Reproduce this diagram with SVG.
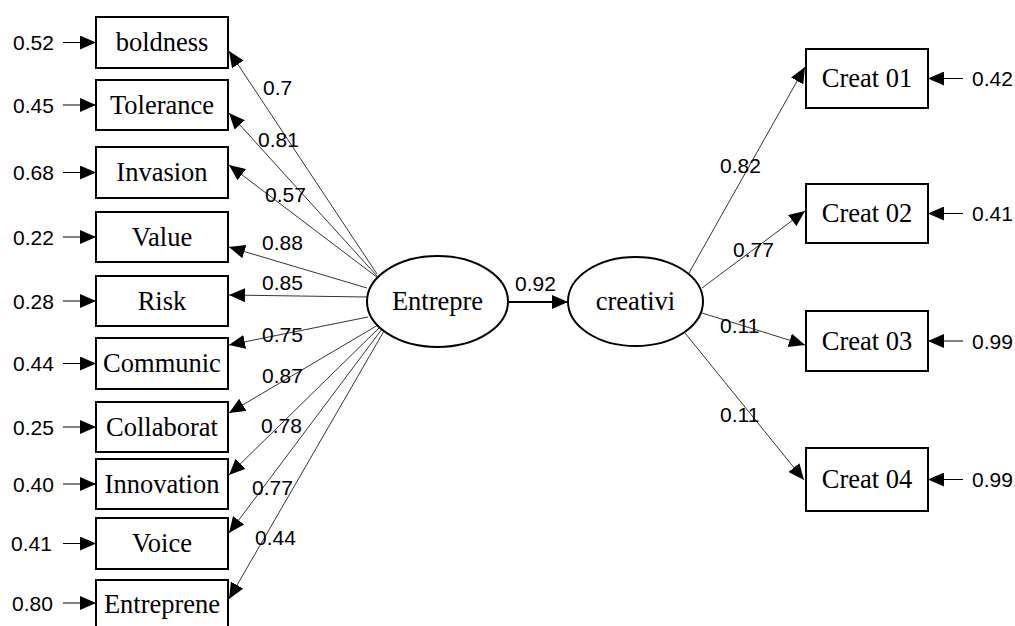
<svg xmlns="http://www.w3.org/2000/svg" width="1015" height="626" viewBox="0 0 1015 626">
<style>
.box{fill:#fff;stroke:#000;stroke-width:2}
.ell{fill:#fff;stroke:#000;stroke-width:2}
.nt{font-family:"Liberation Serif","Times New Roman",serif;font-size:26.5px;fill:#000;text-anchor:middle}
.lb{font-family:"Liberation Sans",Arial,sans-serif;font-size:21px;fill:#000}
.cn{fill:none;stroke:#000;stroke-width:0.8;marker-end:url(#ah)}
.er{fill:none;stroke:#000;stroke-width:1;marker-end:url(#ah)}
.thick{fill:none;stroke:#000;stroke-width:2;marker-end:url(#ah)}
</style>
<defs>
<marker id="ah" markerUnits="userSpaceOnUse" markerWidth="16" markerHeight="14" refX="16" refY="7" orient="auto">
<path d="M0,0 L16,7 L0,14 z" fill="#000"/>
</marker>
</defs>
<rect width="1015" height="626" fill="#fff"/>

<g id="connectors">
<line class="cn" x1="377" y1="274" x2="229" y2="51"/>
<line class="cn" x1="377" y1="276" x2="229" y2="113"/>
<line class="cn" x1="378" y1="278" x2="229" y2="165"/>
<line class="cn" x1="367" y1="288" x2="229" y2="247"/>
<line class="cn" x1="367" y1="297" x2="229" y2="295"/>
<line class="cn" x1="368" y1="317" x2="229" y2="345"/>
<line class="cn" x1="378" y1="325" x2="229" y2="413"/>
<line class="cn" x1="380" y1="327" x2="229" y2="475"/>
<line class="cn" x1="382" y1="329" x2="229" y2="533"/>
<line class="cn" x1="384" y1="331" x2="229" y2="599"/>
<line class="thick" x1="508" y1="302" x2="568" y2="302"/>
<line class="cn" x1="689" y1="273" x2="805" y2="67"/>
<line class="cn" x1="702" y1="288" x2="805" y2="211"/>
<line class="cn" x1="702" y1="313" x2="805" y2="345"/>
<line class="cn" x1="685" y1="333" x2="804" y2="480"/>
<line class="er" x1="63" y1="42.5" x2="96" y2="42.5"/>
<line class="er" x1="63" y1="105" x2="96" y2="105"/>
<line class="er" x1="63" y1="172.5" x2="96" y2="172.5"/>
<line class="er" x1="63" y1="237" x2="96" y2="237"/>
<line class="er" x1="63" y1="301" x2="96" y2="301"/>
<line class="er" x1="63" y1="363.5" x2="96" y2="363.5"/>
<line class="er" x1="63" y1="427" x2="96" y2="427"/>
<line class="er" x1="63" y1="484" x2="96" y2="484"/>
<line class="er" x1="63" y1="543.5" x2="96" y2="543.5"/>
<line class="er" x1="63" y1="603" x2="96" y2="603"/>
<line class="er" x1="963" y1="78.5" x2="928" y2="78.5"/>
<line class="er" x1="963" y1="213.5" x2="928" y2="213.5"/>
<line class="er" x1="963" y1="341" x2="928" y2="341"/>
<line class="er" x1="963" y1="479.5" x2="928" y2="479.5"/>
</g>

<g id="labels">
<text class="lb" x="263" y="95">0.7</text>
<text class="lb" x="258" y="147">0.81</text>
<text class="lb" x="265" y="202">0.57</text>
<text class="lb" x="262" y="250">0.88</text>
<text class="lb" x="262" y="290">0.85</text>
<text class="lb" x="262" y="342">0.75</text>
<text class="lb" x="262" y="383">0.87</text>
<text class="lb" x="261" y="433">0.78</text>
<text class="lb" x="252" y="495">0.77</text>
<text class="lb" x="255" y="545">0.44</text>
<text class="lb" x="515" y="291">0.92</text>
<text class="lb" x="720" y="173">0.82</text>
<text class="lb" x="733" y="257">0.77</text>
<text class="lb" x="720" y="333">0.11</text>
<text class="lb" x="720" y="422">0.11</text>
<text class="lb" x="13" y="50">0.52</text>
<text class="lb" x="13" y="112.5">0.45</text>
<text class="lb" x="13" y="180">0.68</text>
<text class="lb" x="13" y="244.5">0.22</text>
<text class="lb" x="13" y="308.5">0.28</text>
<text class="lb" x="13" y="371">0.44</text>
<text class="lb" x="13" y="434.5">0.25</text>
<text class="lb" x="13" y="491.5">0.40</text>
<text class="lb" x="11" y="551">0.41</text>
<text class="lb" x="12" y="610.5">0.80</text>
<text class="lb" x="972" y="86">0.42</text>
<text class="lb" x="972" y="221">0.41</text>
<text class="lb" x="972" y="348.5">0.99</text>
<text class="lb" x="972" y="487">0.99</text>
</g>

<g id="boldness"><rect class="box" x="96" y="17" width="132" height="51"/><text class="nt" x="162" y="51">boldness</text></g>
<g id="tolerance"><rect class="box" x="96" y="80" width="132" height="50"/><text class="nt" x="162" y="113.5">Tolerance</text></g>
<g id="invasion"><rect class="box" x="96" y="147" width="132" height="51"/><text class="nt" x="162" y="181">Invasion</text></g>
<g id="value"><rect class="box" x="96" y="212" width="132" height="50"/><text class="nt" x="162" y="245.5">Value</text></g>
<g id="risk"><rect class="box" x="96" y="276" width="132" height="50"/><text class="nt" x="162" y="309.5">Risk</text></g>
<g id="communic"><rect class="box" x="96" y="338" width="132" height="51"/><text class="nt" x="162" y="372">Communic</text></g>
<g id="collaborat"><rect class="box" x="96" y="402" width="132" height="50"/><text class="nt" x="162" y="435.5">Collaborat</text></g>
<g id="innovation"><rect class="box" x="96" y="459" width="132" height="50"/><text class="nt" x="162" y="492.5">Innovation</text></g>
<g id="voice"><rect class="box" x="96" y="518" width="132" height="51"/><text class="nt" x="162" y="552">Voice</text></g>
<g id="entreprene"><rect class="box" x="96" y="580" width="132" height="52"/><text class="nt" x="162" y="613">Entreprene</text></g>

<g id="entrepre"><ellipse class="ell" cx="437.5" cy="301.5" rx="70.5" ry="45.5"/><text class="nt" x="437.5" y="310">Entrepre</text></g>
<g id="creativi"><ellipse class="ell" cx="635.5" cy="301.5" rx="67.5" ry="44.5"/><text class="nt" x="635.5" y="310">creativi</text></g>

<g id="creat01"><rect class="box" x="806" y="49" width="122" height="59"/><text class="nt" x="867" y="87">Creat 01</text></g>
<g id="creat02"><rect class="box" x="806" y="184" width="122" height="59"/><text class="nt" x="867" y="222">Creat 02</text></g>
<g id="creat03"><rect class="box" x="806" y="311" width="122" height="60"/><text class="nt" x="867" y="349.5">Creat 03</text></g>
<g id="creat04"><rect class="box" x="806" y="448" width="122" height="63"/><text class="nt" x="867" y="488">Creat 04</text></g>
</svg>
